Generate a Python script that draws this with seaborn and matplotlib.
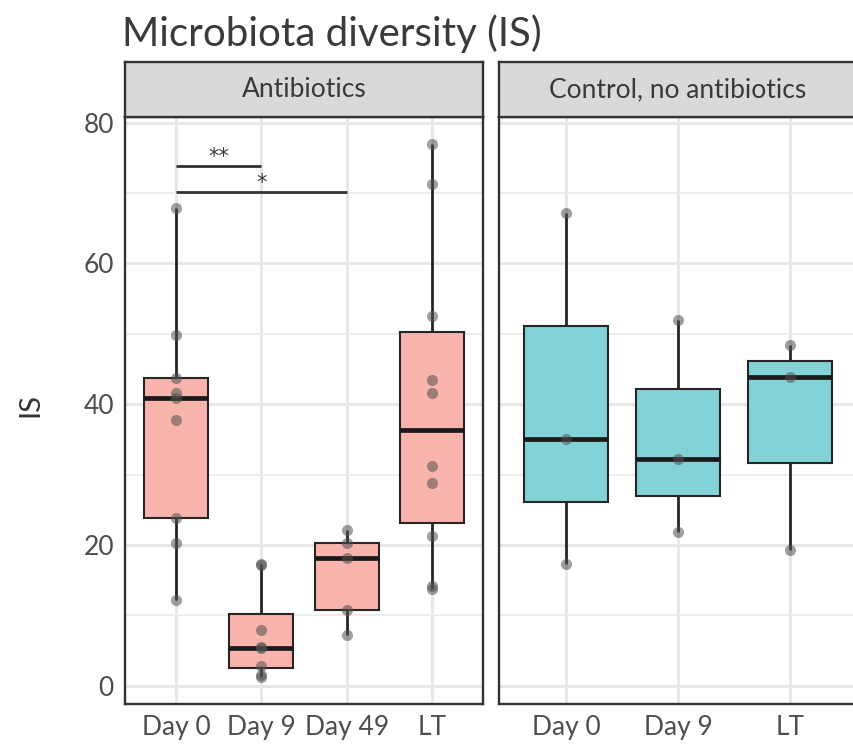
import numpy as np
import pandas as pd
import matplotlib
matplotlib.use("Agg")
import matplotlib.pyplot as plt
import seaborn as sns

sns.set_theme(style="white")
FONT = ["Lato", "DejaVu Sans"]
plt.rcParams["font.family"] = FONT

# ---------------- data ----------------
abx_order = ["Day 0", "Day 9", "Day 49", "LT"]
ctl_order = ["Day 0", "Day 9", "LT"]

abx_day0 = [67.8, 49.8, 43.7, 41.6, 40.9, 37.7, 23.8, 20.3, 12.2]
abx_day9 = [17.3, 17.2, 7.9, 5.5, 5.3, 2.8, 1.6, 1.2]
abx_day49 = [22.1, 20.3, 18.2, 10.8, 7.2]
abx_lt = [77.0, 71.3, 52.5, 43.5, 41.6, 31.2, 28.8, 21.3, 14.2, 13.8]

ctl_day0 = [67.1, 35.0, 17.3]
ctl_day9 = [52.0, 32.2, 21.8]
ctl_lt = [48.4, 43.9, 19.3]

panel_titles = ["Antibiotics", "Control, no antibiotics"]
title = "Microbiota diversity (IS)"
ylabel = "IS"

# significance brackets (from category, to category, y level, label)
sig_from = [0, 0]
sig_to = [1, 2]
sig_y = [73.9, 70.1]
sig_label = ["**", "*"]

yticks = [0, 20, 40, 60, 80]
yminor = [10, 30, 50, 70]


def make_df(groups, order):
    rows = []
    for name, vals in zip(order, groups):
        for v in vals:
            rows.append((name, v))
    return pd.DataFrame(rows, columns=["time", "IS"])


df_abx = make_df([abx_day0, abx_day9, abx_day49, abx_lt], abx_order)
df_ctl = make_df([ctl_day0, ctl_day9, ctl_lt], ctl_order)

# ---------------- figure ----------------
W, H = 854, 746
fig = plt.figure(figsize=(W / 100, H / 100), dpi=100)

def fx(px):
    return px / W

def fy(py):
    return 1 - py / H

plot_top, plot_bot = 117, 704
strip_top = 62
panels = [(125, 483), (499, 857)]
fills = ["#F9B4AD", "#82D2D8"]
dfs = [df_abx, df_ctl]
orders = [abx_order, ctl_order]

all_vals = np.concatenate([df_abx["IS"].values, df_ctl["IS"].values])
rng = all_vals.max() - all_vals.min()
ylim = (all_vals.min() - 0.05 * rng, all_vals.max() + 0.05 * rng)

border_col = "#333333"
tick_col = "#4D4D4D"
grid_col = "#E6E6E6"

axes = []
for i, ((x0, x1), fill, d, order) in enumerate(zip(panels, fills, dfs, orders)):
    ax = fig.add_axes([fx(x0), fy(plot_bot), fx(x1) - fx(x0), fy(plot_top) - fy(plot_bot)])
    ax.set_facecolor("white")

    sns.boxplot(data=d, x="time", y="IS", order=order, ax=ax, width=0.75,
                color=fill, linecolor="#262626", linewidth=1.5, showfliers=False,
                whis=1.5, saturation=1,
                medianprops=dict(linewidth=3.4, color="#1A1A1A"),
                whiskerprops=dict(linewidth=2.0, color="#262626"),
                capprops=dict(linewidth=0))
    sns.stripplot(data=d, x="time", y="IS", order=order, ax=ax, jitter=False,
                  color="#505050", alpha=0.55, size=8, linewidth=0, zorder=5)

    n = len(order)
    ax.set_xlim(-0.6, n - 0.4)
    ax.set_ylim(*ylim)
    ax.set_yticks(yticks)
    ax.set_yticks(yminor, minor=True)
    ax.set_axisbelow(True)
    ax.xaxis.grid(True, which="major", color=grid_col, linewidth=2.0, zorder=0)
    ax.yaxis.grid(True, which="major", color=grid_col, linewidth=2.0, zorder=0)
    ax.yaxis.grid(True, which="minor", color="#EDEDED", linewidth=1.4, zorder=0)
    ax.set_xlabel("")
    ax.set_ylabel("")
    for s in ax.spines.values():
        s.set_color(border_col)
        s.set_linewidth(1.7)
        s.set_visible(True)
    ax.tick_params(axis="both", which="major", direction="out", length=5, width=2,
                   color=border_col, labelsize=19, labelcolor=tick_col, pad=3)
    ax.tick_params(axis="both", which="minor", length=0)
    if i == 0:
        ax.set_yticklabels([str(t) for t in yticks])
    else:
        ax.tick_params(axis="y", which="major", length=0, labelleft=False)
    for lab in ax.get_xticklabels() + ax.get_yticklabels():
        lab.set_family(FONT)
    axes.append(ax)

    # strip
    sax = fig.add_axes([fx(x0), fy(plot_top), fx(x1) - fx(x0), fy(strip_top) - fy(plot_top)])
    sax.set_facecolor("#D9D9D9")
    sax.set_xticks([])
    sax.set_yticks([])
    for s in sax.spines.values():
        s.set_color(border_col)
        s.set_linewidth(1.7)
    sax.text(0.5, 0.5, panel_titles[i], ha="center", va="center", fontsize=19,
             color="#3A3A3A", transform=sax.transAxes, family=FONT)

# significance brackets
ax0 = axes[0]
for a, b, yv, lab in zip(sig_from, sig_to, sig_y, sig_label):
    ax0.plot([a, b], [yv, yv], color="#333333", linewidth=2.0, zorder=6, solid_capstyle="butt")
    ax0.text((a + b) / 2, yv + 0.4, lab, ha="center", va="baseline", fontsize=15,
             color="#3A3A3A", family=["DejaVu Sans"])

# title and y label
fig.text(fx(122), fy(46), title, ha="left", va="baseline", fontsize=29,
         color="#3A3A3A", family=FONT)
fig.text(fx(30), fy(405), ylabel, ha="center", va="center", rotation=90,
         fontsize=21, color="#333333", family=FONT)

fig.savefig("out.png", dpi=100)
